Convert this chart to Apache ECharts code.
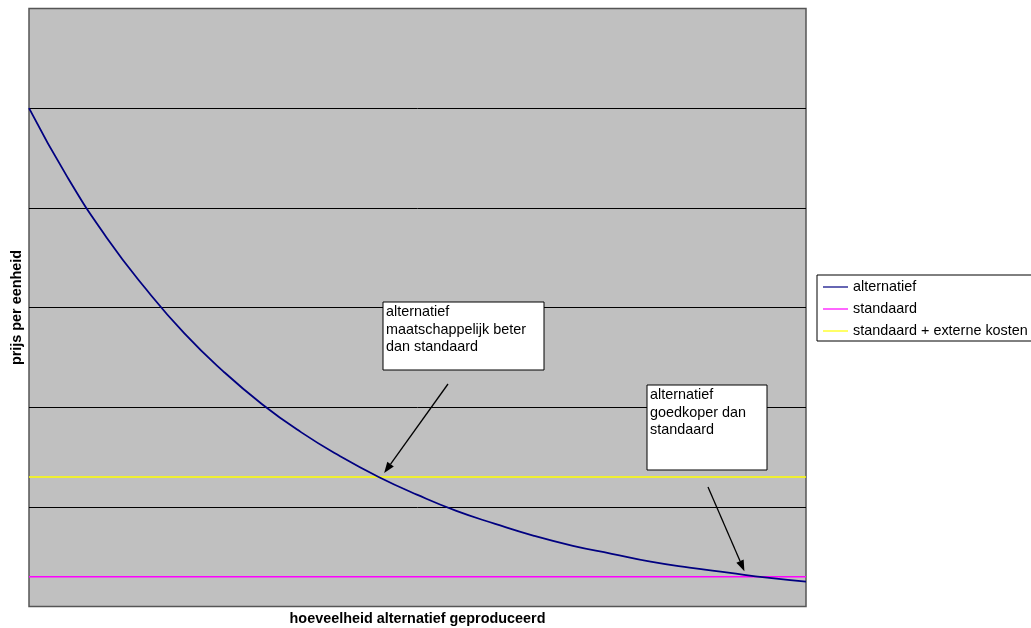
<!DOCTYPE html>
<html>
<head>
<meta charset="utf-8">
<script src="https://cdn.jsdelivr.net/npm/echarts@6/dist/echarts.min.js"></script>
<style>
  html, body { margin: 0; padding: 0; background: #ffffff; }
  #chart { width: 1031px; height: 628px; }
</style>
</head>
<body>
<div id="chart"></div>
<script>
// Quantity produced (relative, 0 = nothing, 1 = maximum on the axis)
const quantity = [0, 0.05, 0.10, 0.15, 0.20, 0.25, 0.30, 0.35, 0.40, 0.45, 0.50,
                  0.55, 0.60, 0.65, 0.70, 0.75, 0.80, 0.85, 0.90, 0.95, 1.00];
// Unit price of the alternative product, falling as production grows
const alternatiefPrice = [5.00, 4.30, 3.70, 3.19, 2.74, 2.36, 2.03, 1.75, 1.51, 1.30, 1.12,
                          0.96, 0.83, 0.71, 0.61, 0.53, 0.45, 0.39, 0.34, 0.29, 0.25];
// Flat price levels of the standard product
const levelQuantity = [0, 1];
const standaardPrice = [0.3, 0.3];
const standaardExternPrice = [1.3, 1.3];

const seriesNames = ['alternatief', 'standaard', 'standaard + externe kosten'];
const xAxisTitle = 'hoeveelheid alternatief geproduceerd';
const yAxisTitle = 'prijs per eenheid';
const noteSocial = ['alternatief', 'maatschappelijk beter', 'dan standaard'];
const noteCheaper = ['alternatief', 'goedkoper dan', 'standaard'];

const FONT = 'Liberation Sans, Arial, Helvetica, sans-serif';
const FS = 14.4;

const pairs = (xs, ys) => xs.map((x, i) => [x, ys[i]]);

const chart = echarts.init(document.getElementById('chart'), null, { renderer: 'canvas' });

chart.setOption({
  animation: false,
  backgroundColor: '#ffffff',
  grid: {
    left: 29, top: 8.4, right: 225, bottom: 21.4,
    outerBoundsMode: 'none',
    containLabel: false,
    show: true,
    backgroundColor: '#c0c0c0',
    borderColor: '#555555',
    borderWidth: 1.5
  },
  legend: {
    orient: 'vertical',
    left: 817, top: 275,
    data: seriesNames,
    icon: 'rect',
    itemWidth: 25, itemHeight: 1.2,
    itemGap: 8,
    padding: [5, 12, 3, 6],
    borderColor: '#000000',
    borderWidth: 1,
    backgroundColor: '#ffffff',
    borderRadius: 0,
    textStyle: { fontFamily: FONT, fontSize: FS, color: '#000000' }
  },
  xAxis: {
    type: 'value', min: 0, max: 1,
    name: xAxisTitle, nameLocation: 'middle', nameGap: 5,
    nameTextStyle: { fontFamily: FONT, fontSize: FS, fontWeight: 'bold', color: '#000000' },
    axisLine: { show: false }, axisTick: { show: false },
    axisLabel: { show: false }, splitLine: { show: false }
  },
  yAxis: {
    type: 'value', min: 0, max: 6, interval: 1,
    name: yAxisTitle, nameLocation: 'middle', nameGap: 5,
    nameTextStyle: { fontFamily: FONT, fontSize: FS, fontWeight: 'bold', color: '#000000' },
    axisLine: { show: false }, axisTick: { show: false },
    axisLabel: { show: false },
    splitLine: { show: true, showMinLine: false, showMaxLine: false,
                 lineStyle: { color: '#000000', width: 1 } }
  },
  series: [
    {
      name: seriesNames[0], type: 'line', smooth: true, symbol: 'none', z: 4,
      data: pairs(quantity, alternatiefPrice),
      itemStyle: { color: '#000080' },
      lineStyle: { color: '#000080', width: 1.8 }
    },
    {
      name: seriesNames[1], type: 'line', symbol: 'none', z: 3,
      data: pairs(levelQuantity, standaardPrice),
      itemStyle: { color: '#ff00ff' },
      lineStyle: { color: '#ff00ff', width: 1.5 }
    },
    {
      name: seriesNames[2], type: 'line', symbol: 'none', z: 3,
      data: pairs(levelQuantity, standaardExternPrice),
      itemStyle: { color: '#ffff00' },
      lineStyle: { color: '#ffff00', width: 1.3 }
    }
  ]
});

// Quantity where the alternative price drops to a given flat level
function crossing(level) {
  for (let i = 1; i < quantity.length; i++) {
    const a = alternatiefPrice[i - 1], b = alternatiefPrice[i];
    if (a >= level && b <= level) {
      const f = (a - level) / (a - b);
      return [quantity[i - 1] + f * (quantity[i] - quantity[i - 1]), level];
    }
  }
  return [1, level];
}

function noteBox(x, y, w, h, lines) {
  return {
    type: 'group', z: 20,
    children: [
      { type: 'rect', shape: { x: x, y: y, width: w, height: h },
        style: { fill: '#ffffff', stroke: '#000000', lineWidth: 1 } },
      { type: 'text', x: x + 3, y: y + 1.5,
        style: { text: lines.join('\n'), fill: '#000000', font: FS + 'px ' + FONT,
                 lineHeight: 17.6, verticalAlign: 'top', align: 'left' } }
    ]
  };
}

function arrow(from, to) {
  const dx = to[0] - from[0], dy = to[1] - from[1];
  const len = Math.sqrt(dx * dx + dy * dy);
  const ux = dx / len, uy = dy / len;
  const head = 11, half = 4;
  const bx = to[0] - ux * head, by = to[1] - uy * head;
  return {
    type: 'group', z: 20,
    children: [
      { type: 'line', shape: { x1: from[0], y1: from[1], x2: bx, y2: by },
        style: { stroke: '#000000', lineWidth: 1.3 } },
      { type: 'polygon',
        shape: { points: [to, [bx - uy * half, by + ux * half], [bx + uy * half, by - ux * half]] },
        style: { fill: '#000000' } }
    ]
  };
}

const pSocial = chart.convertToPixel({ gridIndex: 0 }, crossing(standaardExternPrice[0]));
const pCheaper = chart.convertToPixel({ gridIndex: 0 }, crossing(standaardPrice[0]));

chart.setOption({
  graphic: [
    noteBox(383, 302, 161, 68, noteSocial),
    noteBox(647, 385, 120, 85, noteCheaper),
    arrow([448, 384], [pSocial[0] + 5.5, pSocial[1] - 4]),
    arrow([708, 487], [pCheaper[0] - 15, pCheaper[1] - 5.5])
  ]
});
</script>
</body>
</html>
